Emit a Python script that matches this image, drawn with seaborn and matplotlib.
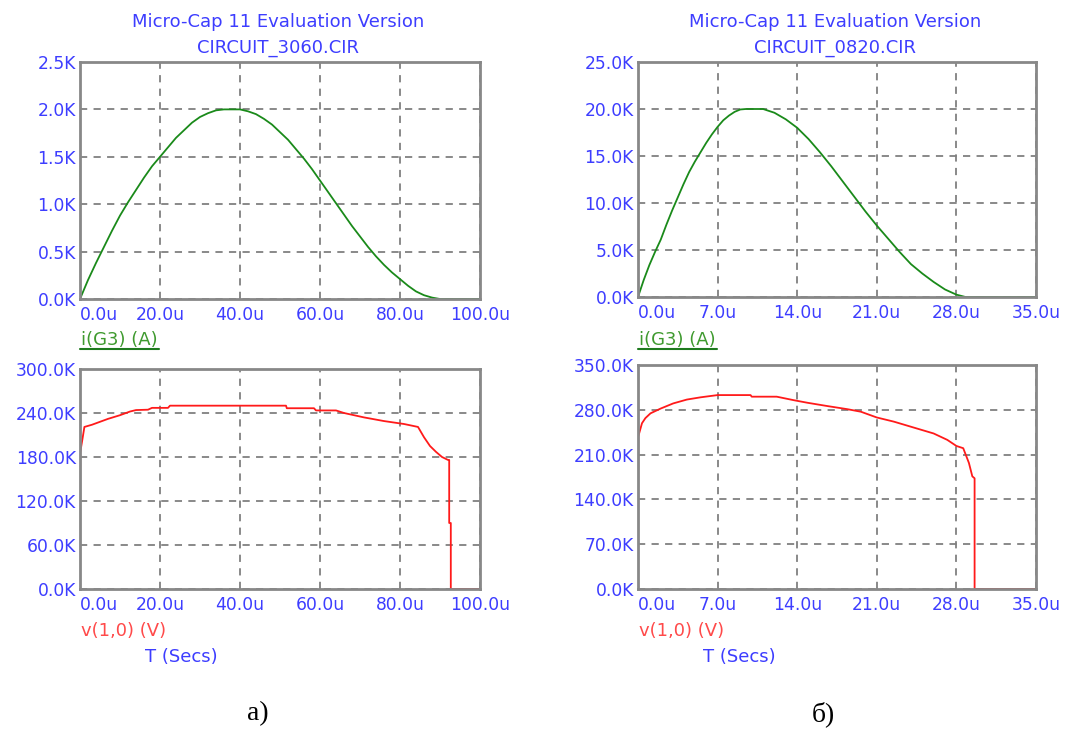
import matplotlib
matplotlib.use("Agg")
import matplotlib.pyplot as plt
import numpy as np
import pandas as pd
import seaborn as sns
from matplotlib.lines import Line2D

# --- data (time in u, values in K) ---
T_I_A = [0, 2, 4, 6, 8, 10, 12, 14, 16, 18, 20, 22, 24, 26, 28, 30, 32, 34, 36, 40,
         42, 44, 46, 48, 50, 52, 54, 56, 58, 60, 62, 64, 66, 68, 70, 72, 74, 76, 78,
         80, 82, 84, 86, 88, 90, 100]
I_A = [0, 0.2, 0.38, 0.55, 0.72, 0.88, 1.02, 1.15, 1.28, 1.40, 1.50, 1.60, 1.70, 1.78,
       1.86, 1.92, 1.96, 1.99, 2.0, 2.0, 1.98, 1.95, 1.90, 1.84, 1.76, 1.68, 1.58, 1.48,
       1.37, 1.25, 1.13, 1.01, 0.89, 0.77, 0.66, 0.55, 0.45, 0.36, 0.28, 0.21, 0.14,
       0.08, 0.04, 0.015, 0, 0]

T_V_A = [0, 0.05, 0.6, 1.1, 3, 5, 7, 10, 12.5, 14, 17, 18, 22, 22.5, 51.5, 51.7, 58.5,
         59, 64, 66, 71, 76, 81, 84.5, 86, 87.5, 89, 90.5, 92.0, 92.3, 92.3, 92.7, 92.7, 100]
V_A = [0, 186, 204, 221, 224, 228, 232, 237, 242, 244, 244.5, 247, 247, 250, 250, 246.5,
       246.5, 243.5, 243.5, 240, 234, 229, 225, 221, 207, 195, 187, 180, 176, 176, 90,
       90, 0, 0]

T_I_B = [0, 0.5, 1.0, 1.5, 2, 2.5, 3, 3.5, 4, 4.5, 5, 5.5, 6, 6.5, 7, 7.5, 8, 8.5, 9,
         9.5, 11, 12, 13, 14, 15, 16, 17, 18, 19, 20, 21, 22, 23, 24, 25, 26, 27, 28,
         28.8, 35]
I_B = [0, 1.8, 3.4, 4.8, 6.1, 7.7, 9.2, 10.6, 12.0, 13.3, 14.4, 15.4, 16.4, 17.3, 18.1,
       18.8, 19.3, 19.7, 19.95, 20.0, 20.0, 19.6, 18.9, 18.0, 16.8, 15.4, 13.9, 12.3,
       10.7, 9.1, 7.6, 6.2, 4.8, 3.5, 2.5, 1.6, 0.8, 0.25, 0, 0]

T_V_B = [0, 0.02, 0.35, 0.65, 1.1, 2.0, 3.1, 4.3, 5.5, 7.0, 9.9, 10.0, 12.2, 13.7, 14.9,
         16.6, 18.4, 19.6, 21.0, 22.5, 24.2, 26.0, 27.2, 28.0, 28.6, 29.1, 29.4, 29.6,
         29.6, 35]
V_B = [0, 238, 259, 267, 274.5, 282, 290, 296, 299.5, 303, 303, 300.5, 300.5, 295, 291,
       286, 281, 277, 268, 261.5, 252.5, 243, 233, 223.5, 220, 197, 176, 173, 0, 0]

X_TICKS_A = [0, 20, 40, 60, 80, 100]
X_TICKS_B = [0, 7, 14, 21, 28, 35]
Y_TICKS_IA = [0, 0.5, 1.0, 1.5, 2.0, 2.5]
Y_TICKS_VA = [0, 60, 120, 180, 240, 300]
Y_TICKS_IB = [0, 5, 10, 15, 20, 25]
Y_TICKS_VB = [0, 70, 140, 210, 280, 350]

TITLE = "Micro-Cap 11 Evaluation Version"
CIRCUITS = ["CIRCUIT_3060.CIR", "CIRCUIT_0820.CIR"]
PANEL_LABELS = ["а)", "б)"]

BLUE = "#3d3dff"
GREEN = "#1a8a1a"
RED = "#ff1a1a"
W, H = 1083, 731

sns.set_style("white")
plt.rcParams["font.family"] = ["DejaVu Sans"]


def px_rect(x0, y0, x1, y1):
    return [x0 / W, 1 - y1 / H, (x1 - x0) / W, (y1 - y0) / H]


def style_axes(ax, xticks, yticks):
    ax.set_xlim(xticks[0], xticks[-1])
    ax.set_ylim(yticks[0], yticks[-1])
    ax.set_xticks(xticks)
    ax.set_yticks(yticks)
    ax.set_xticklabels([f"{v:.1f}u" for v in xticks])
    ax.set_yticklabels([f"{v:.1f}K" for v in yticks])
    ax.tick_params(length=0, labelsize=12.3, labelcolor=BLUE)
    ax.tick_params(axis="x", pad=5)
    ax.tick_params(axis="y", pad=3)
    ax.get_xticklabels()[0].set_ha("left")
    ax.grid(True, color="#808080", linestyle=(0, (4, 3.5)), linewidth=1.3)
    for s in ax.spines.values():
        s.set_color("#888888")
        s.set_linewidth(2)
    ax.set_xlabel("")
    ax.set_ylabel("")


def draw(ax, t, v, color, xticks, yticks):
    df = pd.DataFrame({"t": t, "v": v})
    sns.lineplot(data=df, x="t", y="v", ax=ax, color=color, linewidth=1.3,
                 estimator=None, sort=False, legend=False)
    style_axes(ax, xticks, yticks)


fig = plt.figure(figsize=(W / 100, H / 100), dpi=100)

ax1 = fig.add_axes(px_rect(80, 62, 480, 299))
draw(ax1, T_I_A, I_A, GREEN, X_TICKS_A, Y_TICKS_IA)
ax2 = fig.add_axes(px_rect(80, 369, 480, 589))
draw(ax2, T_V_A, V_A, RED, X_TICKS_A, Y_TICKS_VA)
ax3 = fig.add_axes(px_rect(638, 62, 1036, 297))
draw(ax3, T_I_B, I_B, GREEN, X_TICKS_B, Y_TICKS_IB)
ax4 = fig.add_axes(px_rect(638, 365, 1036, 589))
draw(ax4, T_V_B, V_B, RED, X_TICKS_B, Y_TICKS_VB)


def ftext(x, y, s, **kw):
    fig.text(x / W, 1 - y / H, s, va="center", **kw)


for x0, cx, circ, lab, lx in [(80, 278, CIRCUITS[0], PANEL_LABELS[0], 258),
                              (638, 835, CIRCUITS[1], PANEL_LABELS[1], 823)]:
    ftext(cx, 22, TITLE, ha="center", color=BLUE, fontsize=13)
    ftext(cx, 48, circ, ha="center", color=BLUE, fontsize=13)
    ftext(x0 + 1, 340, "i(G3) (A)", ha="left", color="#3f9a2f", fontsize=13)
    fig.add_artist(Line2D([x0 / W, (x0 + 79) / W], [1 - 349 / H] * 2,
                          color="#1e7a1e", linewidth=1.5))
    ftext(x0 + 1, 631, "v(1,0) (V)", ha="left", color="#ff4a4a", fontsize=13)
    ftext(x0 + 101, 657, "T (Secs)", ha="center", color=BLUE, fontsize=13)
    ftext(lx, 714, lab, ha="center", color="black", fontsize=20,
          family="Liberation Serif")

fig.savefig("out.png", dpi=100)
